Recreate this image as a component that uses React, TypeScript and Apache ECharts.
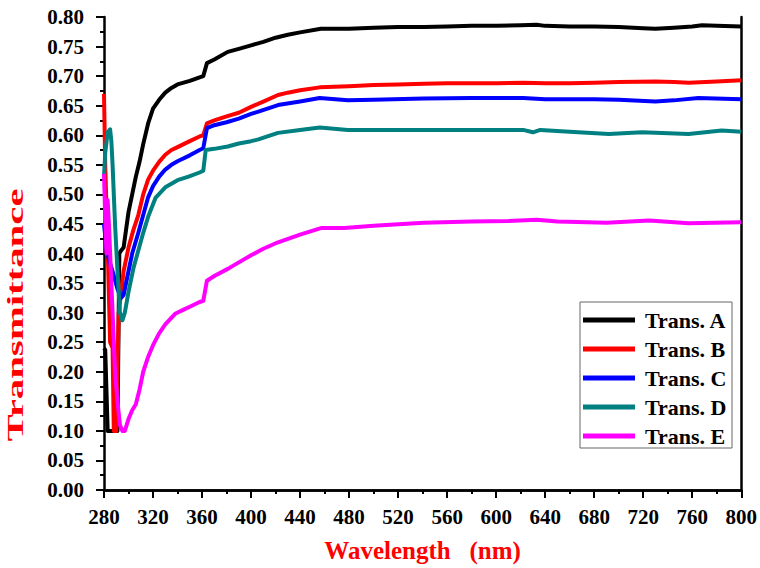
import React, { useEffect, useRef } from "react";
import * as echarts from "echarts";

const seriesNames = ["Trans. A", "Trans. B", "Trans. C", "Trans. D", "Trans. E"];
const seriesColors = ["#000000", "#ff0000", "#0000ff", "#008080", "#ff00ff"];

const wlA = [280, 281, 283, 286, 289, 291, 292.5, 294, 296, 298, 300, 303, 306, 309, 312, 316, 320, 325, 330, 335, 340, 350, 358, 361, 364, 370, 381, 390, 400, 410, 420, 430, 440, 457, 480, 500, 520, 541, 560, 580, 600, 620, 633, 640, 660, 680, 700, 720, 730, 745, 760, 768, 780, 800];
const tA = [0.24, 0.237, 0.10, 0.10, 0.10, 0.10, 0.40, 0.405, 0.41, 0.44, 0.47, 0.50, 0.53, 0.555, 0.585, 0.62, 0.645, 0.66, 0.672, 0.68, 0.686, 0.692, 0.698, 0.70, 0.722, 0.728, 0.741, 0.746, 0.752, 0.758, 0.765, 0.770, 0.774, 0.780, 0.780, 0.782, 0.783, 0.783, 0.784, 0.785, 0.785, 0.786, 0.787, 0.785, 0.784, 0.784, 0.783, 0.781, 0.780, 0.782, 0.784, 0.786, 0.785, 0.784];

const wlB = [280, 281, 283, 285, 287, 288, 290, 292, 294, 296, 300, 304, 308, 312, 316, 320, 325, 330, 335, 340, 350, 358, 361, 364, 370, 380, 390, 400, 410, 422, 430, 440, 456, 480, 500, 520, 541, 560, 580, 600, 622, 640, 660, 680, 700, 730, 745, 757, 780, 800];
const tB = [0.67, 0.55, 0.41, 0.25, 0.24, 0.10, 0.10, 0.30, 0.335, 0.37, 0.41, 0.44, 0.465, 0.50, 0.525, 0.54, 0.555, 0.567, 0.575, 0.58, 0.59, 0.598, 0.60, 0.62, 0.625, 0.632, 0.638, 0.648, 0.657, 0.668, 0.672, 0.676, 0.681, 0.683, 0.685, 0.686, 0.687, 0.688, 0.688, 0.688, 0.689, 0.688, 0.688, 0.689, 0.690, 0.691, 0.690, 0.689, 0.691, 0.693];

const wlC = [280, 282, 284, 287, 291, 294, 296, 300, 303, 308, 312, 316, 320, 325, 330, 335, 340, 350, 358, 361, 364, 370, 380, 390, 400, 406, 422, 440, 456, 479, 500, 541, 580, 622, 640, 680, 700, 730, 745, 765, 800];
const tC = [0.45, 0.41, 0.39, 0.37, 0.34, 0.325, 0.33, 0.37, 0.40, 0.435, 0.465, 0.495, 0.514, 0.53, 0.542, 0.55, 0.556, 0.566, 0.575, 0.578, 0.612, 0.617, 0.622, 0.628, 0.636, 0.640, 0.651, 0.657, 0.663, 0.659, 0.660, 0.662, 0.663, 0.663, 0.661, 0.661, 0.660, 0.657, 0.659, 0.663, 0.661];

const wlD = [280, 281, 283, 285, 286, 287, 289, 291, 293, 295, 297, 300, 304, 308, 312, 316, 322, 330, 340, 349, 358, 361, 363, 370, 381, 390, 400, 406, 422, 440, 456, 479, 541, 622, 630, 636, 660, 692, 719, 757, 784, 800];
const tD = [0.53, 0.57, 0.605, 0.61, 0.59, 0.55, 0.45, 0.37, 0.30, 0.287, 0.30, 0.335, 0.375, 0.405, 0.435, 0.462, 0.494, 0.512, 0.524, 0.530, 0.537, 0.540, 0.575, 0.577, 0.581, 0.586, 0.590, 0.593, 0.604, 0.609, 0.613, 0.609, 0.609, 0.609, 0.605, 0.609, 0.606, 0.602, 0.605, 0.602, 0.608, 0.606];

const wlE = [280, 281, 282, 283, 284, 285, 287, 289, 291, 293, 295, 297, 300, 303, 306, 309, 312, 316, 320, 325, 330, 338, 345, 350, 358, 361, 364, 370, 381, 390, 400, 410, 422, 440, 457, 476, 500, 541, 580, 610, 633, 650, 690, 725, 757, 800];
const tE = [0.535, 0.46, 0.40, 0.49, 0.45, 0.40, 0.30, 0.20, 0.15, 0.11, 0.10, 0.10, 0.12, 0.135, 0.145, 0.17, 0.20, 0.225, 0.245, 0.265, 0.28, 0.298, 0.305, 0.31, 0.318, 0.32, 0.354, 0.362, 0.374, 0.385, 0.397, 0.408, 0.419, 0.432, 0.443, 0.443, 0.447, 0.452, 0.454, 0.455, 0.457, 0.454, 0.452, 0.456, 0.451, 0.453];

const xName = "Wavelength   (nm)";
const yName = "Transmittance";

const FONT = "'Liberation Serif', 'Times New Roman', serif";

export default function App() {
  const ref = useRef<HTMLDivElement>(null);
  useEffect(() => {
    document.body.style.margin = "0";
    if (!ref.current) return;
    const chart = echarts.init(ref.current, null, { renderer: "svg" });
    const wls = [wlA, wlB, wlC, wlD, wlE];
    const ts = [tA, tB, tC, tD, tE];
    const series = seriesNames.map((name, i) => ({
      name,
      type: "line",
      data: wls[i].map((w, j) => [w, ts[i][j]]),
      showSymbol: false,
      symbol: "none",
      lineStyle: { color: seriesColors[i], width: 4, join: "round" },
      itemStyle: { color: seriesColors[i] },
      z: 2 + i,
    }));
    const axisLine = { show: true, lineStyle: { color: "#000", width: 2.5 } };
    const labelStyle = { color: "#000", fontFamily: FONT, fontWeight: "bold", fontSize: 21 };
    chart.setOption({
      animation: false,
      backgroundColor: "#fff",
      grid: { left: 104, right: 14, top: 17, bottom: 74, containLabel: false },
      xAxis: [
        {
          type: "value",
          min: 280,
          max: 800,
          interval: 40,
          name: xName,
          nameLocation: "middle",
          nameGap: 48,
          nameTextStyle: { color: "#ff0000", fontFamily: FONT, fontWeight: "bold", fontSize: 25 },
          axisLine,
          axisTick: { show: true, inside: false, length: 8, lineStyle: { width: 2, color: "#000" } },
          minorTick: { show: true, splitNumber: 2, length: 4, lineStyle: { width: 2, color: "#000" } },
          axisLabel: { ...labelStyle, margin: 16, formatter: (v: number) => String(v) },
          splitLine: { show: false },
        },
        {
          type: "value",
          position: "top",
          min: 280,
          max: 800,
          interval: 40,
          axisLine,
          axisTick: { show: false },
          axisLabel: { show: false },
          splitLine: { show: false },
        },
      ],
      yAxis: [
        {
          type: "value",
          min: 0,
          max: 0.8,
          interval: 0.05,
          axisLine,
          axisTick: { show: true, inside: false, length: 8, lineStyle: { width: 2, color: "#000" } },
          minorTick: { show: true, splitNumber: 2, length: 4, lineStyle: { width: 2, color: "#000" } },
          axisLabel: { ...labelStyle, margin: 20, formatter: (v: number) => v.toFixed(2) },
          splitLine: { show: false },
        },
        {
          type: "value",
          position: "right",
          min: 0,
          max: 0.8,
          interval: 0.05,
          axisLine,
          axisTick: { show: false },
          axisLabel: { show: false },
          splitLine: { show: false },
        },
      ],
      legend: {
        orient: "vertical",
        left: 580,
        top: 302,
        data: seriesNames,
        icon: "rect",
        itemWidth: 52,
        itemHeight: 5,
        itemGap: 7,
        padding: [7, 0, 0, 3],
        textStyle: { color: "#000", fontFamily: FONT, fontWeight: "bold", fontSize: 22, lineHeight: 22, padding: [0, 0, 0, 5] },
      },
      graphic: [
        {
          type: "rect",
          z: 1,
          shape: { x: 580, y: 302, width: 152, height: 146 },
          style: { fill: "#fff", stroke: "#666", lineWidth: 1 },
        },
        {
          type: "text",
          x: 15,
          y: 315,
          rotation: Math.PI / 2,
          scaleX: 1.7,
          style: {
            text: yName,
            fill: "#ff0000",
            font: `bold 24px ${FONT}`,
            align: "center",
            verticalAlign: "middle",
          },
        },
      ],
      series,
    });
    return () => chart.dispose();
  }, []);
  return <div ref={ref} style={{ width: 760, height: 568 }} />;
}
